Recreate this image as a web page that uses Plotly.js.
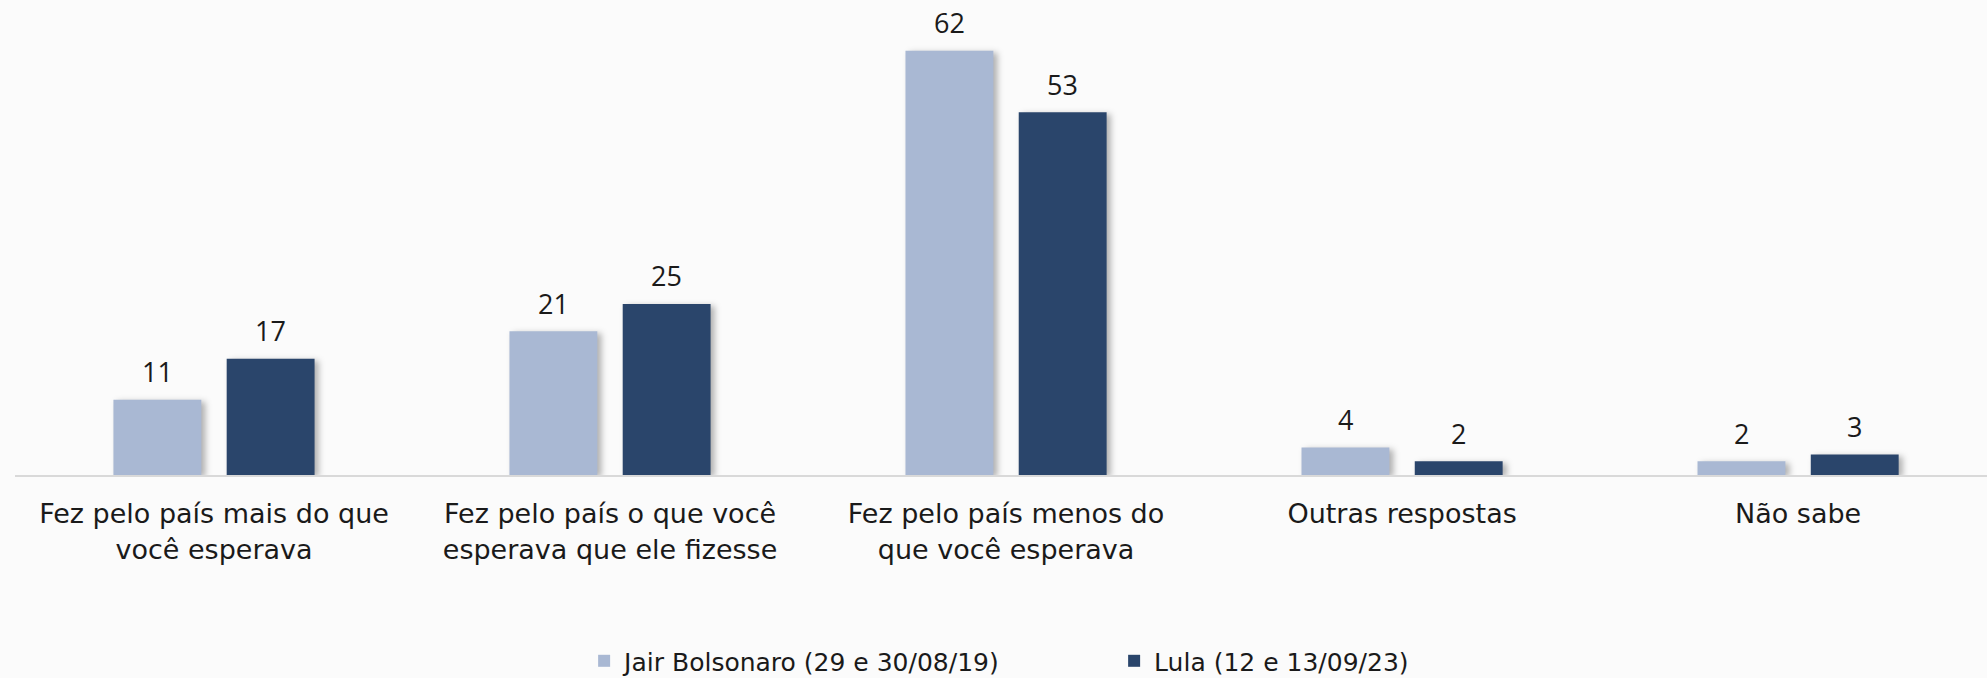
<!DOCTYPE html>
<html>
<head>
<meta charset="utf-8">
<script src="https://cdn.plot.ly/plotly-3.0.1.min.js"></script>
<style>
  html, body { margin: 0; padding: 0; background: #fbfbfb; }
  #chart { width: 1987px; height: 678px; }
  .trace.bars .point path { filter: drop-shadow(4px 2px 3px rgba(0, 0, 0, 0.3)); }
</style>
</head>
<body>
<div id="chart"></div>
<script>
'use strict';

const categories = [
  'Fez pelo país mais do que<br>você esperava',
  'Fez pelo país o que você<br>esperava que ele fizesse',
  'Fez pelo país menos do<br>que você esperava',
  'Outras respostas',
  'Não sabe',
];
const bolsonaroValues = [11, 21, 62, 4, 2];
const lulaValues = [17, 25, 53, 2, 3];
const seriesNames = ['Jair Bolsonaro (29 e 30/08/19)', 'Lula (12 e 13/09/23)'];
const seriesColors = ['#a9b8d3', '#2a456b'];

const LABEL_FONT = '"DejaVu Sans", sans-serif';
const NUMBER_FONT = '"Open Sans", sans-serif';
const TEXT_COLOR = '#1a1a1a';

const WIDTH = 1987;
const HEIGHT = 678;
const MARGIN = {l: 15, r: 0, t: 0, b: 203};
const X_RANGE = [-0.5025, 4.477];
const BAR_GAP = 0.428;
const BAR_GROUP_GAP = 0.224;

function barTrace(name, values, color) {
  return {
    type: 'bar',
    name: name,
    x: categories,
    y: values,
    marker: {color: color},
    hoverinfo: 'skip',
  };
}

// value labels sit a bit higher above the bars than plotly's own outside text
function valueLabels(seriesList) {
  const plotWidth = WIDTH - MARGIN.l - MARGIN.r;
  const pxPerCategory = plotWidth / (X_RANGE[1] - X_RANGE[0]);
  const pitch = (1 - BAR_GAP) * pxPerCategory / seriesList.length;
  const annotations = [];
  seriesList.forEach((values, s) => {
    const offset = (s - (seriesList.length - 1) / 2) * pitch;
    values.forEach((v, i) => {
      annotations.push({
        x: categories[i],
        y: v,
        xref: 'x',
        yref: 'y',
        text: String(v),
        showarrow: false,
        xshift: offset,
        yshift: 28,
        yanchor: 'middle',
        font: {family: NUMBER_FONT, size: 27, color: TEXT_COLOR},
      });
    });
  });
  return annotations;
}

const data = [
  barTrace(seriesNames[0], bolsonaroValues, seriesColors[0]),
  barTrace(seriesNames[1], lulaValues, seriesColors[1]),
];

const layout = {
  width: WIDTH,
  height: HEIGHT,
  paper_bgcolor: '#fbfbfb',
  plot_bgcolor: '#fbfbfb',
  margin: MARGIN,
  barmode: 'group',
  bargap: BAR_GAP,
  bargroupgap: BAR_GROUP_GAP,
  font: {family: LABEL_FONT, size: 27, color: TEXT_COLOR},
  xaxis: {
    range: X_RANGE,
    showline: true,
    linecolor: '#d9d9d9',
    linewidth: 2,
    ticks: '',
    ticklabelstandoff: 14,
    tickfont: {family: LABEL_FONT, size: 27, color: TEXT_COLOR},
    fixedrange: true,
  },
  yaxis: {
    range: [0, 69.4],
    visible: false,
    showgrid: false,
    zeroline: false,
    fixedrange: true,
  },
  annotations: valueLabels([bolsonaroValues, lulaValues]),
  showlegend: true,
  legend: {
    orientation: 'h',
    x: 0.2886,
    xanchor: 'left',
    yref: 'container',
    y: 0.025,
    yanchor: 'middle',
    entrywidth: 485,
    font: {family: LABEL_FONT, size: 25, color: TEXT_COLOR},
    bgcolor: 'rgba(0,0,0,0)',
  },
};

Plotly.newPlot('chart', data, layout, {displayModeBar: false, staticPlot: true});
</script>
</body>
</html>
